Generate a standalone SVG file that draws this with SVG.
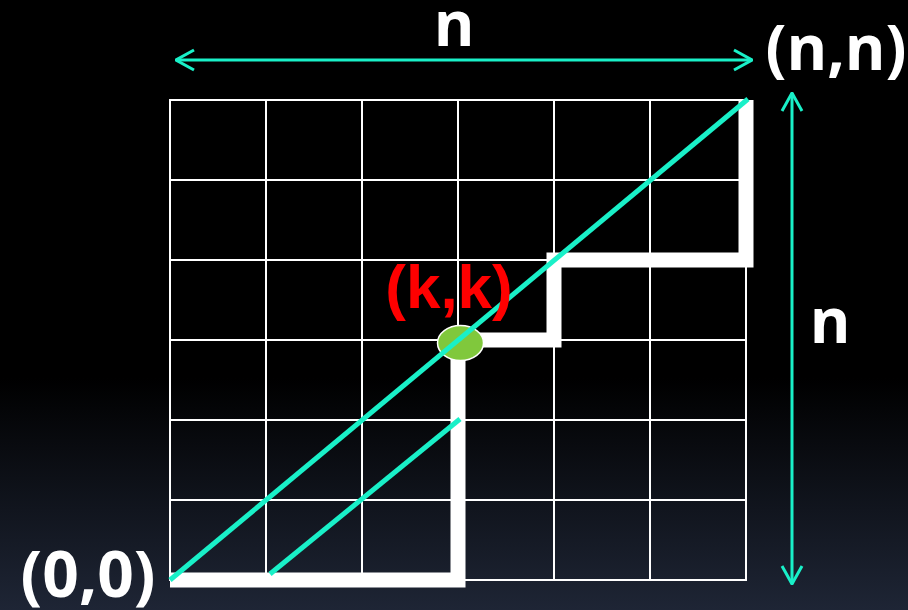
<svg xmlns="http://www.w3.org/2000/svg" width="908" height="610" viewBox="0 0 908 610">
<defs>
<linearGradient id="bg" x1="0" y1="0" x2="0" y2="1">
<stop offset="0" stop-color="#000"/>
<stop offset="0.62" stop-color="#000"/>
<stop offset="1" stop-color="#1e2535"/>
</linearGradient>
<marker id="ah" viewBox="0 0 20 24" refX="19" refY="12" markerWidth="20" markerHeight="24" markerUnits="userSpaceOnUse" orient="auto-start-reverse">
<path d="M1,2 L19,12 L1,22" fill="none" stroke="#19f0c8" stroke-width="3"/>
</marker>
<style>
.grid{stroke:#fff;stroke-width:2;fill:none}
.path{stroke:#fff;stroke-width:15;fill:none;stroke-linejoin:miter;stroke-linecap:butt}
.cyan{stroke:#19f0c8;stroke-width:5;fill:none}
.dim{stroke:#19f0c8;stroke-width:3;fill:none}
.lbl{font-family:"Open Sans","Noto Sans",sans-serif;font-weight:bold;fill:#fff;text-anchor:middle}
.red{font-family:"Liberation Sans",Arial,sans-serif;font-weight:bold;fill:#ff0000;text-anchor:middle}
</style>
</defs>
<rect width="908" height="610" fill="url(#bg)"/>
<g id="grid">
<rect class="grid" x="170" y="100" width="576" height="480"/>
<path class="grid" d="M266,100V580M362,100V580M458,100V580M554,100V580M650,100V580M170,180H746M170,260H746M170,340H746M170,420H746M170,500H746"/>
</g>
<g id="path-white">
<polyline class="path" points="170,580 458,580 458,340 554,340 554,260 746,260 746,100"/>
</g>
<g id="node-kk">
<ellipse cx="460.5" cy="343" rx="23" ry="17.5" fill="#80c83c" stroke="#fff" stroke-width="1.5"/>
</g>
<g id="connectors">
<line class="cyan" x1="170" y1="580" x2="748" y2="99"/>
<line class="cyan" x1="270" y1="574" x2="460" y2="419"/>
<line class="dim" x1="176" y1="60" x2="752" y2="60" marker-start="url(#ah)" marker-end="url(#ah)"/>
<line class="dim" x1="792" y1="93" x2="792" y2="584" marker-start="url(#ah)" marker-end="url(#ah)"/>
</g>
<g id="labels">
<text class="lbl" x="454" y="46" font-size="62">n</text>
<text class="lbl" x="836" y="70" font-size="62">(n,n)</text>
<text class="lbl" x="830" y="343" font-size="62">n</text>
<text class="lbl" x="88" y="597" font-size="64">(0,0)</text>
<text class="red" x="449" y="308" font-size="62">(k,k)</text>
</g>
</svg>
